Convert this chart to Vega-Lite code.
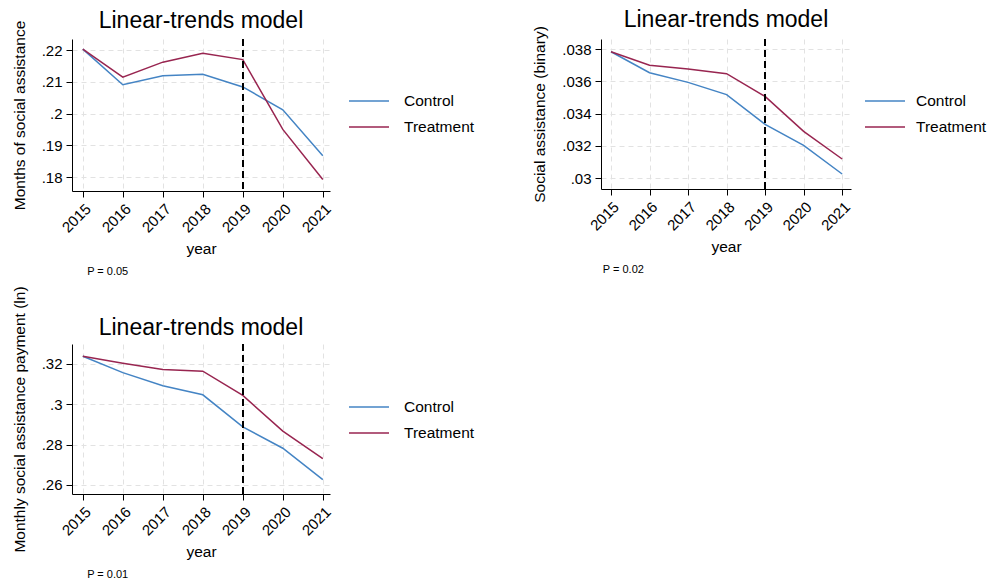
{
  "$schema": "https://vega.github.io/schema/vega-lite/v6.json",
  "padding": {"left": 12, "top": 8, "right": 0, "bottom": 0},
  "background": "white",
  "datasets": {
    "p1": [
      {"year": 2015, "group": "Control", "value": 0.2203},
      {"year": 2016, "group": "Control", "value": 0.2091},
      {"year": 2017, "group": "Control", "value": 0.2119},
      {"year": 2018, "group": "Control", "value": 0.2124},
      {"year": 2019, "group": "Control", "value": 0.2084},
      {"year": 2020, "group": "Control", "value": 0.2012},
      {"year": 2021, "group": "Control", "value": 0.1867},
      {"year": 2015, "group": "Treatment", "value": 0.2203},
      {"year": 2016, "group": "Treatment", "value": 0.2115},
      {"year": 2017, "group": "Treatment", "value": 0.2162},
      {"year": 2018, "group": "Treatment", "value": 0.2190},
      {"year": 2019, "group": "Treatment", "value": 0.2170},
      {"year": 2020, "group": "Treatment", "value": 0.1950},
      {"year": 2021, "group": "Treatment", "value": 0.1792}
    ],
    "p2": [
      {"year": 2015, "group": "Control", "value": 0.03783},
      {"year": 2016, "group": "Control", "value": 0.03653},
      {"year": 2017, "group": "Control", "value": 0.03593},
      {"year": 2018, "group": "Control", "value": 0.03517},
      {"year": 2019, "group": "Control", "value": 0.03333},
      {"year": 2020, "group": "Control", "value": 0.03203},
      {"year": 2021, "group": "Control", "value": 0.03025},
      {"year": 2015, "group": "Treatment", "value": 0.03783},
      {"year": 2016, "group": "Treatment", "value": 0.03699},
      {"year": 2017, "group": "Treatment", "value": 0.03676},
      {"year": 2018, "group": "Treatment", "value": 0.03647},
      {"year": 2019, "group": "Treatment", "value": 0.03506},
      {"year": 2020, "group": "Treatment", "value": 0.03289},
      {"year": 2021, "group": "Treatment", "value": 0.03118}
    ],
    "p3": [
      {"year": 2015, "group": "Control", "value": 0.3238},
      {"year": 2016, "group": "Control", "value": 0.3157},
      {"year": 2017, "group": "Control", "value": 0.3092},
      {"year": 2018, "group": "Control", "value": 0.3047},
      {"year": 2019, "group": "Control", "value": 0.2888},
      {"year": 2020, "group": "Control", "value": 0.2782},
      {"year": 2021, "group": "Control", "value": 0.2626},
      {"year": 2015, "group": "Treatment", "value": 0.3238},
      {"year": 2016, "group": "Treatment", "value": 0.3203},
      {"year": 2017, "group": "Treatment", "value": 0.3172},
      {"year": 2018, "group": "Treatment", "value": 0.3164},
      {"year": 2019, "group": "Treatment", "value": 0.3044},
      {"year": 2020, "group": "Treatment", "value": 0.2867},
      {"year": 2021, "group": "Treatment", "value": 0.2730}
    ]
  },
  "vconcat": [
    {
      "hconcat": [
        {
          "title": {"text": "P = 0.05", "orient": "bottom", "anchor": "start", "fontSize": 11, "fontWeight": "normal", "offset": 9, "dx": 75},
          "vconcat": [
            {
              "title": {"text": "Linear-trends model", "frame": "group", "anchor": "middle", "fontSize": 23, "fontWeight": "normal", "offset": -13},
              "width": 258, "height": 152,
              "data": {"name": "p1"},
              "layer": [
                {
                  "mark": {"type": "line", "strokeWidth": 1.5},
                  "encoding": {
                    "x": {"field": "year", "type": "quantitative", "scale": {"domain": [2014.73, 2021.18], "nice": false, "zero": false}, "axis": {"values": [2015, 2016, 2017, 2018, 2019, 2020, 2021], "format": "d", "title": "year", "labelAngle": -45}},
                    "y": {"field": "value", "type": "quantitative", "scale": {"domain": [0.1756, 0.2235], "nice": false, "zero": false}, "axis": {"values": [0.18, 0.19, 0.2, 0.21, 0.22], "labelExpr": "replace(format(datum.value, '.3~f'), '0.', '.')", "title": "Months of social assistance"}},
                    "color": {"field": "group", "type": "nominal", "scale": {"domain": ["Control", "Treatment"], "range": ["#4484c4", "#982550"]}, "legend": {"title": null, "orient": "none", "legendX": 276, "legendY": 49, "symbolType": "stroke", "symbolSize": 1600, "symbolStrokeWidth": 1.5, "labelFontSize": 15.5, "labelOffset": 14, "rowPadding": 0, "clipHeight": 26, "padding": 0}}
                  }
                },
                {
                  "mark": {"type": "rule", "strokeDash": [7, 4], "color": "black", "strokeWidth": 1.3},
                  "encoding": {"x": {"datum": 2019, "type": "quantitative"}}
                }
              ]
            }
          ],
          "resolve": {"scale": {"color": "independent"}, "legend": {"color": "independent"}}
        },
        {
          "title": {"text": "P = 0.02", "orient": "bottom", "anchor": "start", "fontSize": 11, "fontWeight": "normal", "offset": 9, "dx": 70},
          "vconcat": [
            {
              "title": {"text": "Linear-trends model", "frame": "group", "anchor": "middle", "fontSize": 23, "fontWeight": "normal", "offset": -6},
              "width": 250, "height": 150,
              "data": {"name": "p2"},
              "layer": [
                {
                  "mark": {"type": "line", "strokeWidth": 1.5},
                  "encoding": {
                    "x": {"field": "year", "type": "quantitative", "scale": {"domain": [2014.74, 2021.23], "nice": false, "zero": false}, "axis": {"values": [2015, 2016, 2017, 2018, 2019, 2020, 2021], "format": "d", "title": "year", "labelAngle": -45}},
                    "y": {"field": "value", "type": "quantitative", "scale": {"domain": [0.02932, 0.03862], "nice": false, "zero": false}, "axis": {"values": [0.03, 0.032, 0.034, 0.036, 0.038], "labelExpr": "replace(format(datum.value, '.3~f'), '0.', '.')", "title": "Social assistance (binary)"}},
                    "color": {"field": "group", "type": "nominal", "scale": {"domain": ["Control", "Treatment"], "range": ["#4484c4", "#982550"]}, "legend": {"title": null, "orient": "none", "legendX": 263, "legendY": 49, "symbolType": "stroke", "symbolSize": 1600, "symbolStrokeWidth": 1.5, "labelFontSize": 15.5, "labelOffset": 10, "rowPadding": 0, "clipHeight": 26, "padding": 0}}
                  }
                },
                {
                  "mark": {"type": "rule", "strokeDash": [7, 4], "color": "black", "strokeWidth": 1.3},
                  "encoding": {"x": {"datum": 2019, "type": "quantitative"}}
                }
              ]
            }
          ],
          "resolve": {"scale": {"color": "independent"}, "legend": {"color": "independent"}}
        }
      ],
      "spacing": 57,
      "resolve": {"scale": {"color": "independent"}, "legend": {"color": "independent"}}
    },
    {
      "title": {"text": "P = 0.01", "orient": "bottom", "anchor": "start", "fontSize": 11, "fontWeight": "normal", "offset": 9, "dx": 75},
      "vconcat": [
        {
          "title": {"text": "Linear-trends model", "frame": "group", "anchor": "middle", "fontSize": 23, "fontWeight": "normal", "offset": -54},
          "width": 258, "height": 150,
          "data": {"name": "p3"},
          "layer": [
            {
              "mark": {"type": "line", "strokeWidth": 1.5},
              "encoding": {
                "x": {"field": "year", "type": "quantitative", "scale": {"domain": [2014.73, 2021.18], "nice": false, "zero": false}, "axis": {"values": [2015, 2016, 2017, 2018, 2019, 2020, 2021], "format": "d", "title": "year", "labelAngle": -45}},
                "y": {"field": "value", "type": "quantitative", "scale": {"domain": [0.2555, 0.3299], "nice": false, "zero": false}, "axis": {"values": [0.26, 0.28, 0.3, 0.32], "labelExpr": "replace(format(datum.value, '.3~f'), '0.', '.')", "title": "Monthly social assistance payment (ln)"}},
                "color": {"field": "group", "type": "nominal", "scale": {"domain": ["Control", "Treatment"], "range": ["#4484c4", "#982550"]}, "legend": {"title": null, "orient": "none", "legendX": 276, "legendY": 50, "symbolType": "stroke", "symbolSize": 1600, "symbolStrokeWidth": 1.5, "labelFontSize": 15.5, "labelOffset": 14, "rowPadding": 0, "clipHeight": 26, "padding": 0}}
              }
            },
            {
              "mark": {"type": "rule", "strokeDash": [7, 4], "color": "black", "strokeWidth": 1.3},
              "encoding": {"x": {"datum": 2019, "type": "quantitative"}}
            }
          ]
        }
      ],
      "resolve": {"scale": {"color": "independent"}, "legend": {"color": "independent"}}
    }
  ],
  "spacing": 8,
  "resolve": {"scale": {"color": "independent"}, "legend": {"color": "independent"}},
  "config": {
    "font": "Liberation Sans",
    "view": {"stroke": null},
    "title": {"color": "black", "font": "Liberation Sans"},
    "axis": {
      "domainColor": "black", "tickColor": "black", "labelColor": "black", "titleColor": "black",
      "labelFontSize": 15, "titleFontSize": 15.5, "titleFontWeight": "normal",
      "tickSize": 6, "labelPadding": 4, "grid": true, "gridColor": "#e2e2e2", "gridDash": [5, 4],
      "labelFont": "Liberation Sans", "titleFont": "Liberation Sans"
    },
    "axisY": {"titlePadding": 14},
    "axisX": {"titlePadding": 6},
    "legend": {"labelColor": "black", "labelFont": "Liberation Sans"}
  }
}
